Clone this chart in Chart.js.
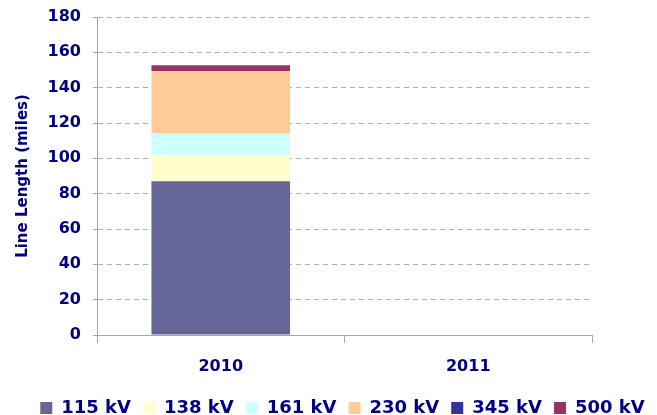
<!DOCTYPE html>
<html>
<head>
<meta charset="utf-8">
<script src="https://cdn.jsdelivr.net/npm/chart.js@4"></script>
<style>
html,body{margin:0;padding:0;background:#fff;}
#wrap{width:657px;height:415px;position:relative;}
</style>
</head>
<body>
<div id="wrap"><canvas id="c" width="657" height="415"></canvas></div>
<script>
const categories = ['2010', '2011'];
const seriesNames = ['115 kV', '138 kV', '161 kV', '230 kV', '345 kV', '500 kV'];
const v115 = [87, null];
const v138 = [14.7, null];
const v161 = [12.7, null];
const v230 = [34.9, null];
const v345 = [0, null];
const v500 = [3.4, null];
const yTicks = [0, 20, 40, 60, 80, 100, 120, 140, 160, 180];

const colors = ['#666699', '#FFFFCC', '#CCFFFF', '#FFCC99', '#333399', '#993366'];
const values = [v115, v138, v161, v230, v345, v500];
const NAVY = '#000080';
const FONT = 'DejaVu Sans';

const datasets = seriesNames.map((n, i) => ({
  label: n,
  data: values[i],
  backgroundColor: colors[i],
  borderWidth: 0,
  barPercentage: 0.56,
  categoryPercentage: 1.0
}));

const legendShift = {
  id: 'legendShift',
  afterLayout(chart) {
    const l = chart.legend;
    if (l) { l.left += 14; l.right += 14; }
  }
};

new Chart(document.getElementById('c'), {
  type: 'bar',
  data: { labels: categories, datasets: datasets },
  plugins: [legendShift],
  options: {
    responsive: false,
    animation: false,
    layout: { padding: { top: 17, right: 0, left: 0, bottom: -12 } },
    plugins: {
      tooltip: { enabled: false },
      legend: {
        position: 'bottom',
        labels: {
          boxWidth: 12,
          boxHeight: 12,
          padding: 12,
          color: NAVY,
          font: { family: FONT, size: 18, weight: 'bold' }
        }
      }
    },
    scales: {
      x: {
        stacked: true,
        grid: { drawOnChartArea: false, tickLength: 8, color: '#a6a6a6', offset: true },
        border: { color: '#a6a6a6', width: 1 },
        ticks: { color: NAVY, font: { family: FONT, size: 16, weight: 'bold' }, padding: 14 },
        afterFit: s => { s.height = 52; s.paddingLeft = 0; s.paddingRight = 0; }
      },
      y: {
        stacked: true,
        min: 0,
        max: 180,
        afterBuildTicks: s => { s.ticks = yTicks.map(v => ({ value: v })); },
        grid: { color: '#b0b0b0', tickLength: 4, tickBorderDash: [], tickColor: '#a6a6a6' },
        border: { color: '#a6a6a6', width: 1, dash: [5, 4] },
        ticks: { color: NAVY, font: { family: FONT, size: 16, weight: 'bold' }, padding: 12 },
        title: {
          display: true,
          text: 'Line Length (miles)',
          color: NAVY,
          font: { family: FONT, size: 15, weight: 'bold' },
          padding: { top: 14, bottom: 0 }
        },
        afterFit: s => { s.width = 97; s.paddingTop = 0; s.paddingBottom = 0; }
      },
      yRight: {
        position: 'right',
        display: true,
        grid: { display: false },
        ticks: { display: false },
        border: { display: false },
        afterFit: s => { s.width = 65; s.paddingTop = 0; s.paddingBottom = 0; }
      }
    }
  }
});
</script>
</body>
</html>
